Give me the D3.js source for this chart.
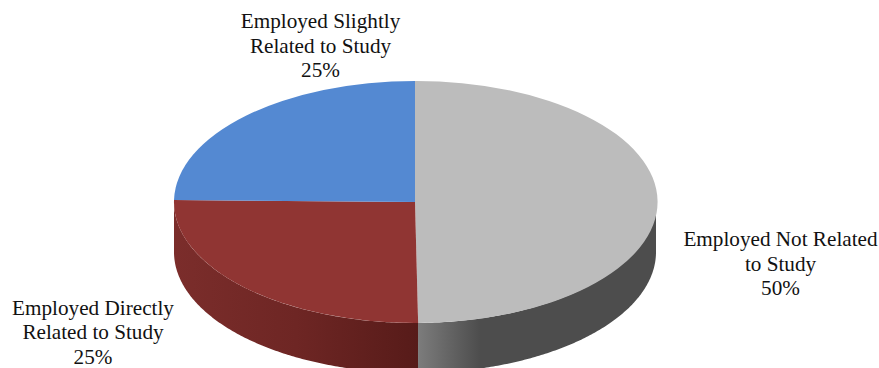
<!DOCTYPE html>
<html><head><meta charset="utf-8">
<script src="https://cdn.jsdelivr.net/npm/d3@7"></script>
<style>html,body{margin:0;padding:0;background:#fff}svg{display:block}text{font-family:"Liberation Serif",serif;font-size:21.2px;fill:#111}</style>
</head><body>
<svg id="c" width="879" height="368"></svg>
<script>
const categories = ["Employed Not Related to Study","Employed Directly Related to Study","Employed Slightly Related to Study"];
const values = [49.8,25.46,24.74];
const topColors = ["#bcbcbc","#903533","#5489d2"];
const sideStops = [[["0","#7c7c7c"],["0.26","#4d4d4d"],["1","#4d4d4d"]],[["0","#7b2d2b"],["0.5","#6e2624"],["1","#571b19"]],[["0","#444"],["1","#444"]]];
const labelLines = [["Employed Not Related","to Study","50%"],["Employed Directly","Related to Study","25%"],["Employed Slightly","Related to Study","25%"]];
const labelX = [780.5,93,320.5];
const labelY = [246,314.5,28];
const cx=415, cy=202, rx=241, ry=121, depth=50;

const svg=d3.select("#c");
const defs=svg.append("defs");
const arcs=d3.pie().sort(null)(values);
const sx=d3.scaleLinear().domain([-1,1]).range([cx-rx,cx+rx]);
const sy=d3.scaleLinear().domain([-1,1]).range([cy-ry,cy+ry]);
const px=a=>sx(Math.sin(a)), py=a=>sy(-Math.cos(a));

// side walls: only the part of each slice on the front half of the ellipse
const wall=d3.area().x(a=>px(a)).y0(a=>py(a)).y1(a=>py(a)+depth);
arcs.forEach((d,i)=>{
  const lo=Math.max(d.startAngle,Math.PI/2), hi=Math.min(d.endAngle,3*Math.PI/2);
  if(hi<=lo) return;
  const grad=defs.append("linearGradient").attr("id","g"+i).attr("gradientUnits","userSpaceOnUse")
    .attr("x1",px(hi)).attr("x2",px(lo)).attr("y1",0).attr("y2",0);
  sideStops[i].forEach(s=>grad.append("stop").attr("offset",s[0]).attr("stop-color",s[1]));
  svg.append("path").datum(d3.range(lo,hi,0.01).concat([hi])).attr("d",wall).attr("fill",`url(#g${i})`);
});

// top face: d3.arc in unit space, squashed to the ellipse
const arcGen=d3.arc().innerRadius(0).outerRadius(1);
const topFace=svg.append("g").attr("transform",`translate(${cx},${cy}) scale(${rx},${ry})`);
topFace.selectAll("path").data(arcs).join("path").attr("d",arcGen).attr("fill",(d,i)=>topColors[i]);

// labels
labelLines.forEach((ls,i)=>{
  const t=svg.append("text").attr("text-anchor","middle");
  ls.forEach((l,j)=>t.append("tspan").attr("x",labelX[i]).attr("y",labelY[i]+j*24.6).text(l));
});
</script>
</body></html>
